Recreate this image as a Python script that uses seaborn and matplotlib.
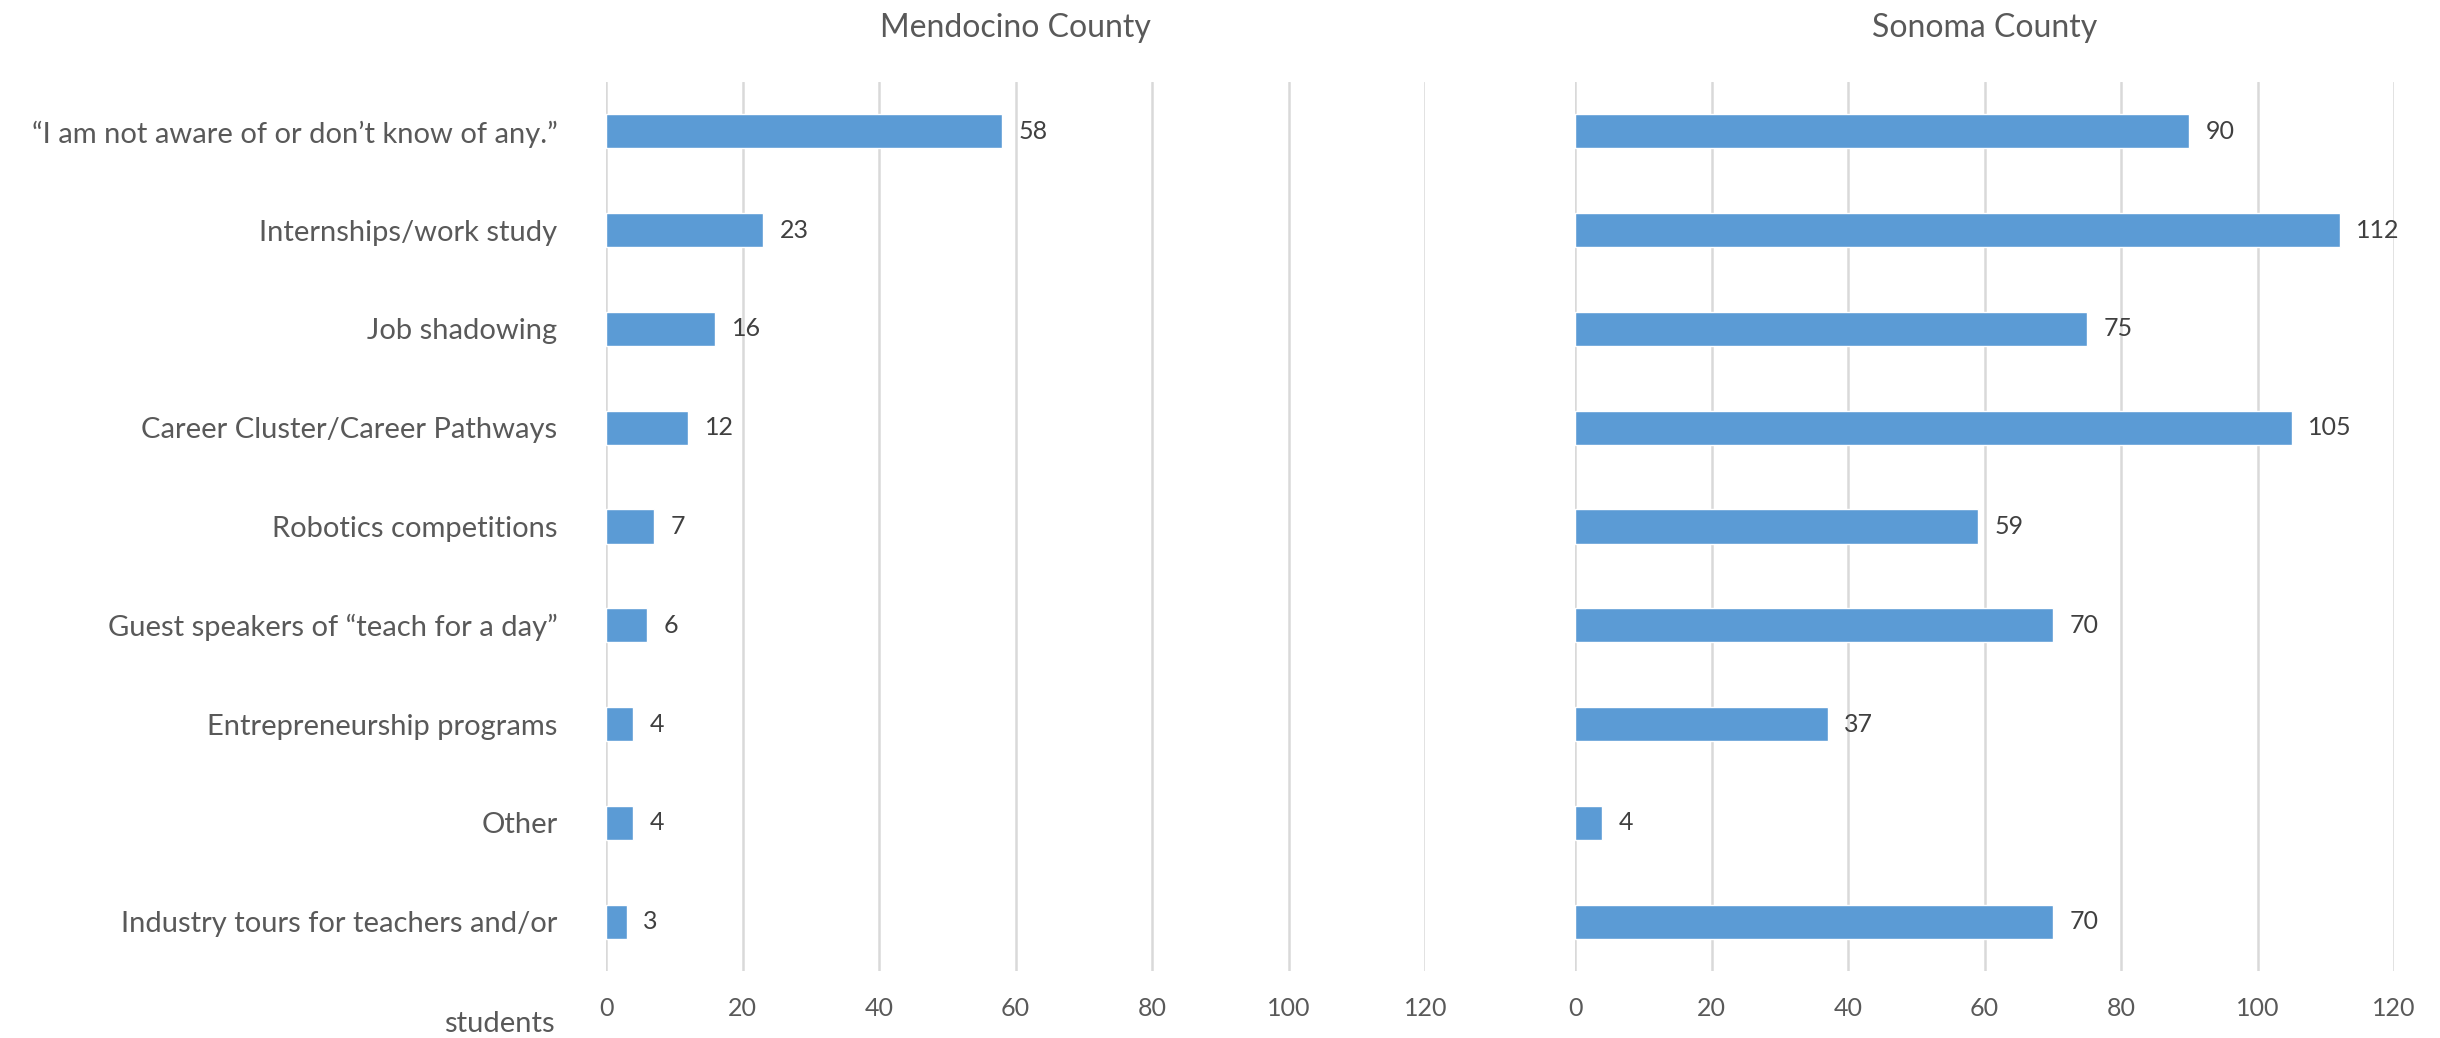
import matplotlib
matplotlib.use("Agg")
import matplotlib.pyplot as plt
import seaborn as sns

categories = [
    "\u201cI am not aware of or don\u2019t know of any.\u201d",
    "Internships/work study",
    "Job shadowing",
    "Career Cluster/Career Pathways",
    "Robotics competitions",
    "Guest speakers of \u201cteach for a day\u201d",
    "Entrepreneurship programs",
    "Other",
    "Industry tours for teachers and/or students",
]
mendocino = [58, 23, 16, 12, 7, 6, 4, 4, 3]
sonoma = [90, 112, 75, 105, 59, 70, 37, 4, 70]
titles = ["Mendocino County", "Sonoma County"]
xticks = [0, 20, 40, 60, 80, 100, 120]

sns.set_style("white")
plt.rcParams["font.family"] = ["Lato", "DejaVu Sans"]

bar_color = "#5B9BD5"
text_gray = "#595959"

fig = plt.figure(figsize=(24.4, 10.38), dpi=100)
ax1 = fig.add_axes([0.2484, 0.0645, 0.3357, 0.8565])
ax2 = fig.add_axes([0.6455, 0.0645, 0.3357, 0.8565])

for ax, vals, title in [(ax1, mendocino, titles[0]), (ax2, sonoma, titles[1])]:
    sns.barplot(x=vals, y=categories, orient="h", color=bar_color,
                width=0.345, ax=ax, saturation=1)
    ax.set_xlim(0, 120)
    ax.set_xticks(xticks)
    ax.set_ylim(len(categories) - 0.5, -0.5)
    ax.xaxis.grid(True, color="#D9D9D9", linewidth=1.8)
    ax.set_axisbelow(True)
    for s in ax.spines.values():
        s.set_visible(False)
    ax.tick_params(axis="x", length=0, pad=19, labelsize=18, labelcolor=text_gray)
    ax.tick_params(axis="y", length=0, pad=35, labelsize=21, labelcolor=text_gray)
    ax.set_xlabel("")
    ax.set_ylabel("")
    ax.bar_label(ax.containers[0], padding=12, fontsize=18, color="#404040")
    ax.text(0.5, 1.0506, title, transform=ax.transAxes, ha="center",
            va="baseline", fontsize=23, color=text_gray)

# Excel wraps the last category label onto a second line far below
labels = list(categories)
labels[-1] = "Industry tours for teachers and/or"
ax1.set_yticks(range(len(categories)))
ax1.set_yticklabels(labels)
ax1.text(-0.0623, -0.0686, "students", transform=ax1.transAxes, ha="right",
         va="baseline", fontsize=21, color=text_gray)
ax2.set_yticklabels([])

fig.savefig("out.png", dpi=100)
